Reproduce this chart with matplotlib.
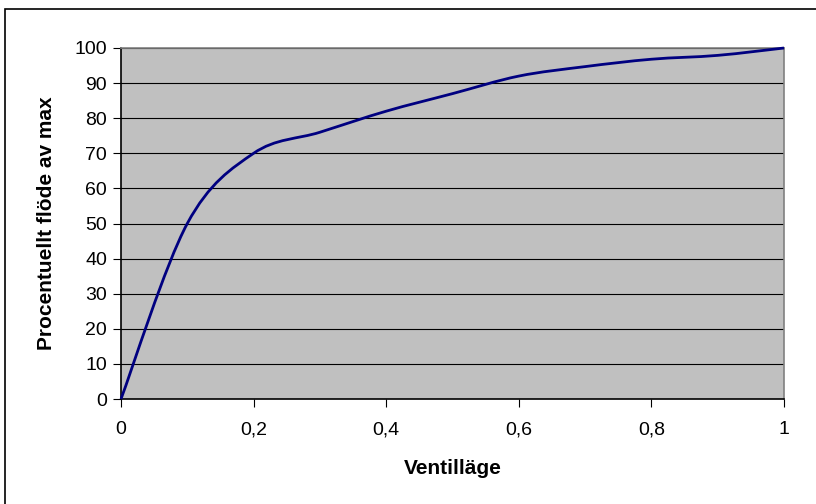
import matplotlib.pyplot as plt
from matplotlib.path import Path
from matplotlib.patches import PathPatch, Rectangle

# Ventilläge vs procentuellt flöde
ventillage = [0.0, 0.1, 0.2, 0.3, 0.4, 0.5, 0.6, 0.7, 0.8, 0.9, 1.0]
flode = [0, 50, 70, 76, 82, 87, 92, 94.7, 96.8, 97.9, 100]

x_ticks = [0, 0.2, 0.4, 0.6, 0.8, 1.0]
x_ticklabels = ['0', '0,2', '0,4', '0,6', '0,8', '1']
y_ticks = list(range(0, 101, 10))

plt.rcParams['font.family'] = ['Liberation Sans', 'DejaVu Sans']


def smooth_path(xs, ys):
    # excel style smoothed line: cubic bezier segments, tension 1/6
    pts = list(zip(xs, ys))
    n = len(pts)
    verts = [pts[0]]
    codes = [Path.MOVETO]
    for i in range(n - 1):
        p_prev = pts[i - 1] if i > 0 else pts[i]
        p0 = pts[i]
        p1 = pts[i + 1]
        p_next = pts[i + 2] if i + 2 < n else pts[i + 1]
        c1 = (p0[0] + (p1[0] - p_prev[0]) / 6, p0[1] + (p1[1] - p_prev[1]) / 6)
        c2 = (p1[0] - (p_next[0] - p0[0]) / 6, p1[1] - (p_next[1] - p0[1]) / 6)
        verts += [c1, c2, p1]
        codes += [Path.CURVE4] * 3
    return Path(verts, codes)


fig = plt.figure(figsize=(8.16, 5.04), dpi=100)
ax = fig.add_axes([121 / 816, 1 - 399 / 504, 663 / 816, 351 / 504])
ax.set_facecolor('#c0c0c0')

# outer chart frame (left and top edges visible)
fig.patches.append(Rectangle((5 / 816, -0.1), 1.2, 1 - 9 / 504 + 0.1,
                             transform=fig.transFigure, fill=False,
                             edgecolor='black', linewidth=1.2))

for v in y_ticks[1:]:
    ax.axhline(v, color='#000000', linewidth=0.8, zorder=1)

patch = PathPatch(smooth_path(ventillage, flode), facecolor='none',
                  edgecolor='#000080', linewidth=2, zorder=3, clip_on=False)
ax.add_patch(patch)

ax.set_xlim(0, 1)
ax.set_ylim(0, 100)
ax.set_xticks(x_ticks)
ax.set_xticklabels(x_ticklabels)
ax.set_yticks(y_ticks)
ax.tick_params(axis='both', direction='out', length=6, width=0.8,
               labelsize=14, colors='black')
ax.tick_params(axis='x', pad=10)
ax.tick_params(axis='y', pad=4)

ax.spines['left'].set_color('black')
ax.spines['bottom'].set_color('black')
ax.spines['top'].set_color('#808080')
ax.spines['right'].set_color('#808080')
for s in ax.spines.values():
    s.set_linewidth(1.2)

ax.set_xlabel('Ventilläge', fontsize=15, fontweight='bold', va='center')
ax.set_ylabel('Procentuellt flöde av max', fontsize=15, fontweight='bold',
              va='center')
ax.xaxis.set_label_coords(0.5, (399 - 468) / 351)
ax.yaxis.set_label_coords((47 - 121) / 663, 0.5)

fig.savefig('out.png', dpi=100)
